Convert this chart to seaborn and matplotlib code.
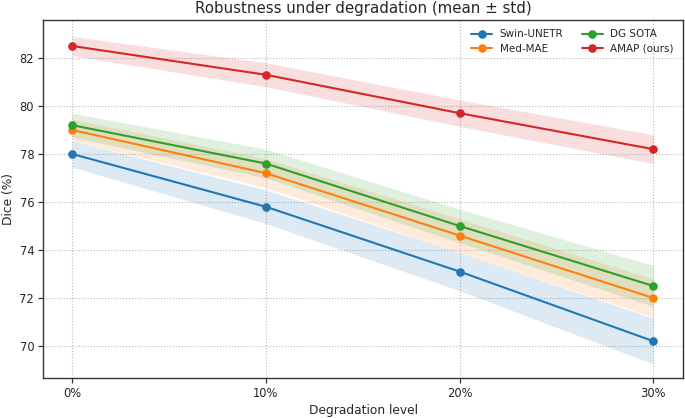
import numpy as np
import pandas as pd
import matplotlib
matplotlib.use("Agg")
import matplotlib.pyplot as plt
import seaborn as sns

levels = ["0%", "10%", "20%", "30%"]
methods = ["Swin-UNETR", "Med-MAE", "DG SOTA", "AMAP (ours)"]
swin_mean = [78.0, 75.8, 73.1, 70.2]
swin_std = [0.55, 0.7, 0.8, 0.95]
medmae_mean = [79.0, 77.2, 74.6, 72.0]
medmae_std = [0.45, 0.6, 0.7, 0.8]
dg_mean = [79.2, 77.6, 75.0, 72.5]
dg_std = [0.5, 0.6, 0.7, 0.85]
amap_mean = [82.5, 81.3, 79.7, 78.2]
amap_std = [0.4, 0.5, 0.55, 0.6]

means = [swin_mean, medmae_mean, dg_mean, amap_mean]
stds = [swin_std, medmae_std, dg_std, amap_std]
colors = ["#1f77b4", "#ff7f0e", "#2ca02c", "#d62728"]

sns.set_style("whitegrid")
plt.rcParams['font.family'] = ['DejaVu Sans']

fig, ax = plt.subplots(figsize=(6.85, 4.18), dpi=100)
x = np.arange(len(levels))
for name, m, s, c in zip(methods, means, stds, colors):
    df = pd.DataFrame({"x": x, "y": m})
    sns.lineplot(data=df, x="x", y="y", ax=ax, color=c, marker="o",
                 markersize=6.2, markeredgewidth=0, linewidth=1.5, label=name)
    m_ = np.array(m); s_ = np.array(s)
    ax.fill_between(x, m_ - s_, m_ + s_, color=c, alpha=0.15, linewidth=0)

ax.set_xticks(x)
ax.set_xticklabels(levels)
ax.set_xlim(-0.15, 3.153)
ax.set_ylim(68.67, 83.58)
ax.set_xlabel("Degradation level", fontsize=8.8, labelpad=3)
ax.set_ylabel("Dice (%)", fontsize=8.8, labelpad=3)
ax.set_title("Robustness under degradation (mean ± std)", fontsize=10.8, pad=5)
ax.grid(True, linestyle=":", color="#b8b8b8", linewidth=0.8)
for sp in ax.spines.values():
    sp.set_color("#333333")
    sp.set_linewidth(1.0)
ax.tick_params(axis="both", which="both", length=3.5, width=0.9, color="#333333",
               bottom=True, left=True, labelsize=8.3, pad=3)
ax.legend(ncol=2, frameon=False, loc="upper right", fontsize=7.5,
          handlelength=2.0, handletextpad=0.7, columnspacing=1.8,
          labelspacing=0.4, borderaxespad=0.5)
fig.subplots_adjust(left=0.063, right=0.997, top=0.952, bottom=0.096)
fig.savefig("out.png", dpi=100)
